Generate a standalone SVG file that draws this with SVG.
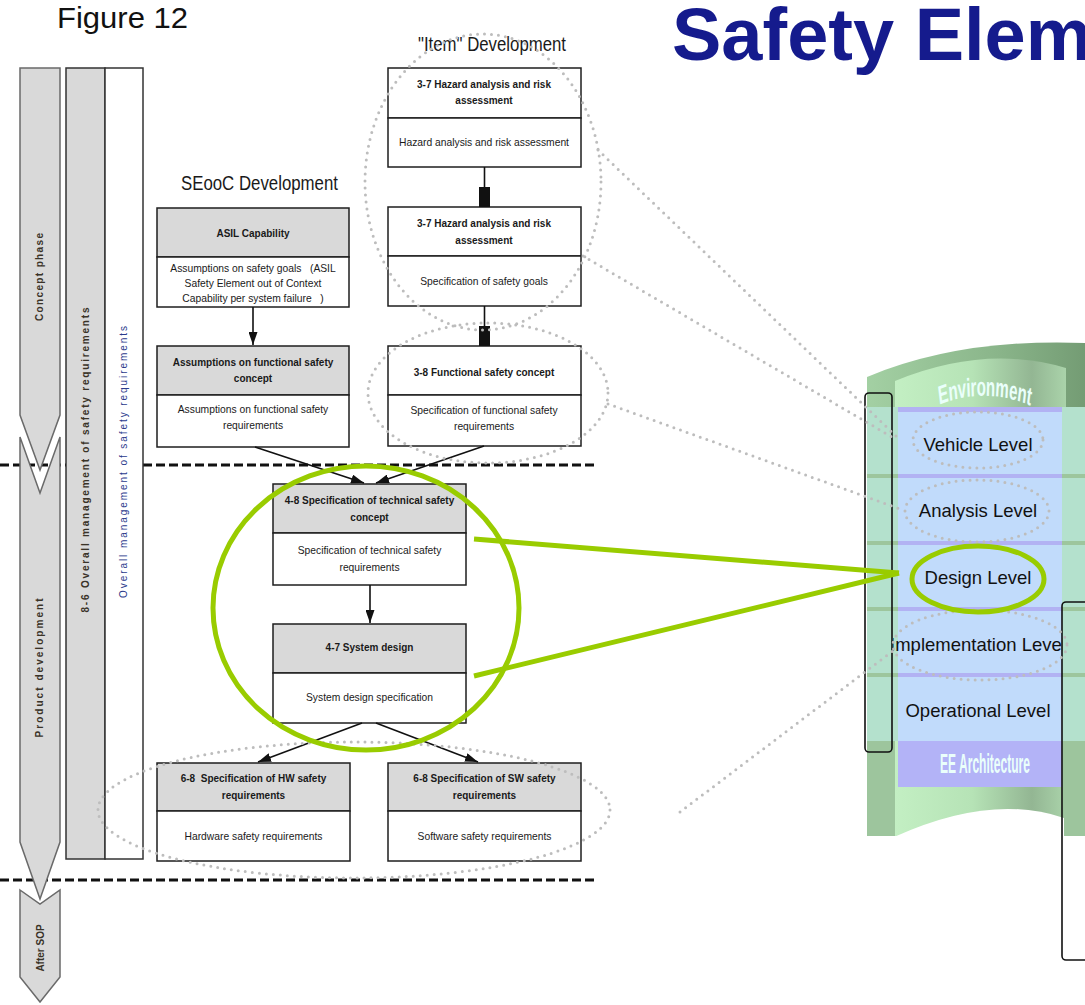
<svg xmlns="http://www.w3.org/2000/svg" width="1085" height="1005" viewBox="0 0 1085 1005">
<style>
  text{font-family:"Liberation Sans",Arial,sans-serif}
  .box{fill:#fff;stroke:#1e1e1e;stroke-width:1.5}
  .hdr{fill:#d9d9d9;stroke:#1e1e1e;stroke-width:1.5}
  .ht{font-size:10px;font-weight:bold;fill:#1a1a1a;text-anchor:middle}
  .bt{font-size:10.3px;fill:#1a1a1a;text-anchor:middle}
  .con{stroke:#111;stroke-width:1.6;fill:none}
  .dash{stroke:#111;stroke-width:3;stroke-dasharray:9 4}
  .dot{fill:none;stroke:#bdbdbd;stroke-width:3;stroke-linecap:round;stroke-dasharray:0 7}
  .green{fill:none;stroke:#99cc00;stroke-width:5}
  .phase{fill:#d9d9d9;stroke:#6a6a6a;stroke-width:1.5}
  .vt{font-size:10px;fill:#3a3328;text-anchor:middle;font-weight:bold}
  .vt.blue{fill:#2b3a8c;font-weight:normal}
  .lvl{font-size:18.5px;fill:#111;text-anchor:middle}
  .sec{font-size:20px;fill:#1a1a1a}
</style>
<defs>
  <marker id="arr" markerUnits="userSpaceOnUse" markerWidth="13" markerHeight="9" refX="13" refY="4.5" orient="auto">
    <path d="M0,0 L13,4.5 L0,9 Z" fill="#111"/>
  </marker>
  <linearGradient id="rimGrad" x1="0" y1="0" x2="1" y2="0">
    <stop offset="0" stop-color="#a3d0a3"/>
    <stop offset="0.6" stop-color="#8ab58a"/>
    <stop offset="1" stop-color="#749c74"/>
  </linearGradient>
  <linearGradient id="wallGrad" x1="0" y1="0" x2="1" y2="0">
    <stop offset="0" stop-color="#c3efc3"/>
    <stop offset="0.45" stop-color="#b6e3b6"/>
    <stop offset="0.8" stop-color="#93b693"/>
    <stop offset="1" stop-color="#aad3aa"/>
  </linearGradient>
  <clipPath id="rowClip"><rect x="893" y="600" width="170" height="80"/></clipPath>
  <path id="envArc" d="M-80,405 Q0,386 80,406"/>
</defs>

<rect width="1085" height="1005" fill="#fff"/>

<!-- headings -->
<text x="57" y="28" font-size="29" fill="#111" textLength="131" lengthAdjust="spacingAndGlyphs">Figure 12</text>
<text x="672" y="60" font-size="74" font-weight="bold" fill="#151b8d">Safety Elem</text>
<text class="sec" x="181" y="190" textLength="157" lengthAdjust="spacingAndGlyphs">SEooC Development</text>
<text class="sec" x="418" y="51" textLength="148" lengthAdjust="spacingAndGlyphs">"Item" Development</text>

<!-- phase separators -->
<line class="dash" x1="0" y1="465" x2="598" y2="465"/>
<line class="dash" x1="0" y1="880" x2="598" y2="880"/>

<!-- lifecycle phases -->
<g id="phases">
  <polygon class="phase" points="20,68 60,68 60,415 40,470 20,415"/>
  <polygon class="phase" points="20,437 40,493 60,437 60,842 40,899 20,842"/>
  <polygon class="phase" points="20,890 40,904 60,890 60,977 40,1002 20,977"/>
  <text class="vt" transform="translate(43,277) rotate(-90)" textLength="88" lengthAdjust="spacing">Concept phase</text>
  <text class="vt" transform="translate(43,668) rotate(-90)" textLength="139" lengthAdjust="spacing">Product development</text>
  <text class="vt" transform="translate(44,948) rotate(-90)" font-size="11">After SOP</text>
</g>

<g id="management">
  <rect x="66" y="68" width="39" height="791" fill="#d9d9d9" stroke="#333" stroke-width="1.5"/>
  <rect x="105" y="68" width="38" height="791" fill="#fff" stroke="#333" stroke-width="1.5"/>
  <text class="vt" transform="translate(89,460) rotate(-90)" textLength="305" lengthAdjust="spacing">8-6 Overall management of safety requirements</text>
  <text class="vt blue" transform="translate(127,462) rotate(-90)" textLength="272" lengthAdjust="spacing">Overall management of safety requirements</text>
</g>

<!-- SEooC column -->
<g id="asil-capability">
  <rect class="hdr" x="157" y="208" width="192" height="49"/>
  <rect class="box" x="157" y="257" width="192" height="50"/>
  <text class="ht" x="253" y="237">ASIL Capability</text>
  <text class="bt" x="253" y="272" xml:space="preserve">Assumptions on safety goals   (ASIL</text>
  <text class="bt" x="253" y="287">Safety Element out of Context</text>
  <text class="bt" x="253" y="302" xml:space="preserve">Capability per system failure   )</text>
</g>
<g id="assumed-fsc">
  <rect class="hdr" x="157" y="346" width="192" height="49"/>
  <rect class="box" x="157" y="395" width="192" height="52"/>
  <text class="ht" x="253" y="366">Assumptions on functional safety</text>
  <text class="ht" x="253" y="382">concept</text>
  <text class="bt" x="253" y="413">Assumptions on functional safety</text>
  <text class="bt" x="253" y="429">requirements</text>
</g>

<!-- Item column -->
<g id="hara-1">
  <rect class="box" x="388" y="68" width="193" height="50"/>
  <rect class="box" x="388" y="118" width="193" height="49"/>
  <text class="ht" x="484" y="88">3-7 Hazard analysis and risk</text>
  <text class="ht" x="484" y="104">assessment</text>
  <text class="bt" x="484" y="146">Hazard analysis and risk assessment</text>
</g>
<g id="hara-2">
  <rect class="box" x="388" y="207" width="193" height="49"/>
  <rect class="box" x="388" y="256" width="193" height="50"/>
  <text class="ht" x="484" y="227">3-7 Hazard analysis and risk</text>
  <text class="ht" x="484" y="244">assessment</text>
  <text class="bt" x="484" y="285">Specification of safety goals</text>
</g>
<g id="functional-safety-concept">
  <rect class="box" x="388" y="346" width="193" height="49"/>
  <rect class="box" x="388" y="395" width="193" height="51"/>
  <text class="ht" x="484" y="376">3-8 Functional safety concept</text>
  <text class="bt" x="484" y="414">Specification of functional safety</text>
  <text class="bt" x="484" y="430">requirements</text>
</g>

<!-- product development -->
<g id="technical-safety-concept">
  <rect class="hdr" x="273" y="484" width="193" height="49"/>
  <rect class="box" x="273" y="533" width="193" height="52"/>
  <text class="ht" x="369.5" y="504">4-8 Specification of technical safety</text>
  <text class="ht" x="369.5" y="521">concept</text>
  <text class="bt" x="369.5" y="554">Specification of technical safety</text>
  <text class="bt" x="369.5" y="571">requirements</text>
</g>
<g id="system-design">
  <rect class="hdr" x="273" y="624" width="193" height="49"/>
  <rect class="box" x="273" y="673" width="193" height="50"/>
  <text class="ht" x="369.5" y="651">4-7 System design</text>
  <text class="bt" x="369.5" y="701">System design specification</text>
</g>
<g id="hw-requirements">
  <rect class="hdr" x="157" y="763" width="193" height="48"/>
  <rect class="box" x="157" y="811" width="193" height="50"/>
  <text class="ht" x="253.5" y="782" xml:space="preserve">6-8  Specification of HW safety</text>
  <text class="ht" x="253.5" y="799">requirements</text>
  <text class="bt" x="253.5" y="840">Hardware safety requirements</text>
</g>
<g id="sw-requirements">
  <rect class="hdr" x="388" y="763" width="193" height="48"/>
  <rect class="box" x="388" y="811" width="193" height="50"/>
  <text class="ht" x="484.5" y="782">6-8 Specification of SW safety</text>
  <text class="ht" x="484.5" y="799">requirements</text>
  <text class="bt" x="484.5" y="840">Software safety requirements</text>
</g>

<!-- flow connectors -->
<g id="connectors">
  <line class="con" x1="253" y1="307" x2="253" y2="345" marker-end="url(#arr)"/>
  <line class="con" x1="484.5" y1="167" x2="484.5" y2="188"/>
  <rect x="479" y="187" width="11" height="20" fill="#111"/>
  <line class="con" x1="484.5" y1="306" x2="484.5" y2="327"/>
  <rect x="479" y="326" width="11" height="20" fill="#111"/>
  <line class="con" x1="255" y1="447" x2="364" y2="483" marker-end="url(#arr)"/>
  <line class="con" x1="484" y1="446" x2="376" y2="483" marker-end="url(#arr)"/>
  <line class="con" x1="370" y1="585" x2="370" y2="623" marker-end="url(#arr)"/>
  <line class="con" x1="362" y1="723" x2="258" y2="762" marker-end="url(#arr)"/>
  <line class="con" x1="376" y1="723" x2="478" y2="762" marker-end="url(#arr)"/>
</g>

<!-- abstraction levels cylinder -->
<g id="levels-cylinder">
  <path d="M867,377 Q960,338 1085,343 L1085,836 L867,836 Z" fill="url(#rimGrad)"/>
  <path d="M895,381 Q985,344 1066,368 L1066,836 L895,836 Z" fill="url(#wallGrad)"/>
  <rect x="867" y="407" width="218" height="334" fill="#b4e1cd"/>
  <rect x="898" y="407" width="164" height="334" fill="#c1dbfb"/>
  <rect x="898" y="407" width="164" height="5" fill="#b2b2f3"/>
  <g fill="#9dc69d">
    <rect x="867" y="474" width="218" height="4"/>
    <rect x="867" y="541" width="218" height="4"/>
    <rect x="867" y="607" width="218" height="4"/>
    <rect x="867" y="673" width="218" height="4"/>
  </g>
  <g fill="#b2b2f3">
    <rect x="898" y="474" width="164" height="4"/>
    <rect x="898" y="541" width="164" height="4"/>
    <rect x="898" y="607" width="164" height="4"/>
    <rect x="898" y="673" width="164" height="4"/>
  </g>
  <rect x="867" y="741" width="28" height="95" fill="#9dc59d"/>
  <rect x="1063" y="741" width="22" height="95" fill="#9dc59d"/>
  <rect x="898" y="741" width="164" height="46" fill="#b3b3f7"/>
  <path d="M894,837 Q991,793 1064,818 L1064,840 L894,840 Z" fill="#fff"/>
  <g transform="translate(985,0) scale(0.58,1)">
    <text font-size="26" font-weight="bold" fill="#eafffb" text-anchor="middle"><textPath href="#envArc" startOffset="50%">Environment</textPath></text>
  </g>
  <text transform="translate(985,773) scale(0.43,1)" font-size="28" font-weight="bold" fill="#eafffb" text-anchor="middle">EE Architecture</text>
  <text class="lvl" x="978" y="451">Vehicle Level</text>
  <text class="lvl" x="978" y="517">Analysis Level</text>
  <text class="lvl" x="978" y="584">Design Level</text>
  <text class="lvl" x="978" y="651" clip-path="url(#rowClip)">Implementation Level</text>
  <text class="lvl" x="978" y="717">Operational Level</text>
  <rect x="865" y="393" width="27" height="359" rx="4" fill="none" stroke="#111" stroke-width="1.6"/>
  <rect x="1062" y="602" width="40" height="358" rx="4" fill="none" stroke="#111" stroke-width="1.6"/>
</g>

<!-- highlight markings -->
<g id="highlights">
  <ellipse class="dot" cx="483" cy="182" rx="118" ry="148"/>
  <ellipse class="dot" cx="488" cy="393" rx="120" ry="70"/>
  <ellipse class="dot" cx="354" cy="810" rx="256" ry="68"/>
  <ellipse class="dot" cx="978" cy="440" rx="65" ry="28"/>
  <ellipse class="dot" cx="977" cy="511" rx="72" ry="31"/>
  <ellipse class="dot" cx="980" cy="645" rx="87" ry="35"/>
  <line class="dot" x1="598" y1="150" x2="897" y2="437"/>
  <line class="dot" x1="583" y1="256" x2="897" y2="440"/>
  <line class="dot" x1="608" y1="404" x2="903" y2="510"/>
  <line class="dot" x1="680" y1="812" x2="894" y2="650"/>
  <ellipse class="green" cx="366" cy="608" rx="153" ry="142"/>
  <ellipse class="green" cx="978" cy="579" rx="66" ry="33"/>
  <line class="green" x1="474" y1="539" x2="899" y2="573"/>
  <line class="green" x1="474" y1="676" x2="899" y2="573"/>
</g>
</svg>
